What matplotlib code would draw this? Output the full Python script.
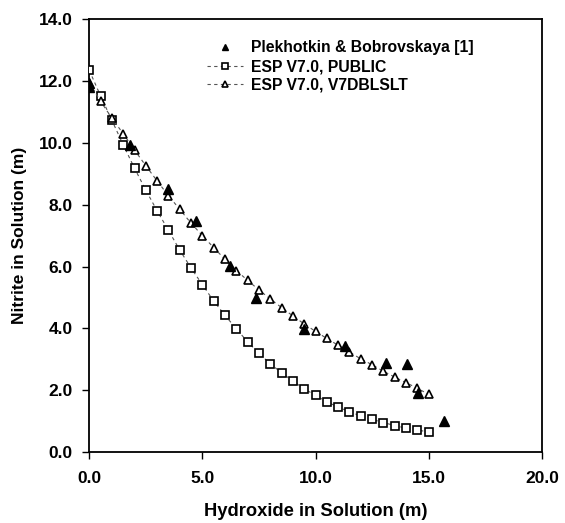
import matplotlib
matplotlib.use("Agg")
import matplotlib.pyplot as plt
from matplotlib.ticker import FormatStrFormatter, MultipleLocator

# ------------------------------------------------------------
# Data
# ------------------------------------------------------------

# model runs share the same hydroxide grid (0 .. 15 m, step 0.5)
model_x = [0.0, 0.5, 1.0, 1.5, 2.0, 2.5, 3.0, 3.5, 4.0, 4.5,
           5.0, 5.5, 6.0, 6.5, 7.0, 7.5, 8.0, 8.5, 9.0, 9.5,
           10.0, 10.5, 11.0, 11.5, 12.0, 12.5, 13.0, 13.5, 14.0, 14.5,
           15.0]

public_y = [12.35, 11.52, 10.73, 9.94, 9.18, 8.47, 7.80, 7.17, 6.53, 5.95,
            5.41, 4.88, 4.42, 3.98, 3.56, 3.19, 2.85, 2.56, 2.29, 2.04,
            1.83, 1.62, 1.45, 1.30, 1.16, 1.05, 0.95, 0.85, 0.77, 0.71,
            0.64]

dblslt_y = [11.95, 11.35, 10.80, 10.30, 9.77, 9.26, 8.77, 8.29, 7.85, 7.40,
            7.00, 6.61, 6.23, 5.87, 5.55, 5.24, 4.95, 4.67, 4.40, 4.14,
            3.90, 3.67, 3.45, 3.23, 3.01, 2.82, 2.61, 2.42, 2.24, 2.06,
            1.86]

# experimental data
exp_x = [0.0, 0.0, 1.82, 3.46, 4.70, 6.24, 7.36, 9.48, 11.28, 13.13,
         14.03, 14.53, 15.67]
exp_y = [11.95, 11.80, 9.93, 8.50, 7.46, 6.01, 4.99, 3.98, 3.43, 2.89,
         2.83, 1.91, 1.01]

LABELS = ["Plekhotkin & Bobrovskaya [1]",
          "ESP V7.0, PUBLIC",
          "ESP V7.0, V7DBLSLT"]

# ------------------------------------------------------------
# Plot
# ------------------------------------------------------------

plt.rcParams["font.family"] = ["Liberation Sans", "DejaVu Sans"]
plt.rcParams["font.weight"] = "bold"

fig = plt.figure(figsize=(5.65, 5.23), dpi=100)
ax = fig.add_axes([0.158, 0.136, 0.801, 0.827])

ax.plot(exp_x, exp_y, linestyle="none", marker="^", markersize=6.5,
        color="black", label=LABELS[0], zorder=4)

ax.plot(model_x, public_y, linestyle=(0, (3, 3)), linewidth=0.8,
        color="#555555", marker="s", markersize=5.5,
        markerfacecolor="white", markeredgecolor="black",
        markeredgewidth=1.2, label=LABELS[1], zorder=3)

ax.plot(model_x, dblslt_y, linestyle=(0, (3, 3)), linewidth=0.8,
        color="#555555", marker="^", markersize=6,
        markerfacecolor="white", markeredgecolor="black",
        markeredgewidth=1.2, label=LABELS[2], zorder=3)

ax.set_xlim(0, 20)
ax.set_ylim(0, 14)

ax.xaxis.set_major_locator(MultipleLocator(5))
ax.yaxis.set_major_locator(MultipleLocator(2))
ax.xaxis.set_major_formatter(FormatStrFormatter("%.1f"))
ax.yaxis.set_major_formatter(FormatStrFormatter("%.1f"))

ax.tick_params(direction="out", length=5, width=1, labelsize=12.5)
ax.tick_params(axis="y", pad=7)
ax.tick_params(axis="x", pad=9)

for spine in ax.spines.values():
    spine.set_linewidth(1.3)

ax.set_xlabel("Hydroxide in Solution (m)", fontsize=13.2,
              fontweight="bold", labelpad=12)
ax.set_ylabel("Nitrite in Solution (m)", fontsize=12.5,
              fontweight="bold", labelpad=8)

ax.legend(loc="upper left", bbox_to_anchor=(0.26, 0.952), frameon=False,
          borderpad=0, borderaxespad=0, handlelength=2.3,
          handletextpad=0.5, labelspacing=0.25, markerscale=0.75,
          prop={"weight": "bold", "size": 11.3})

fig.savefig("out.png", dpi=100)
